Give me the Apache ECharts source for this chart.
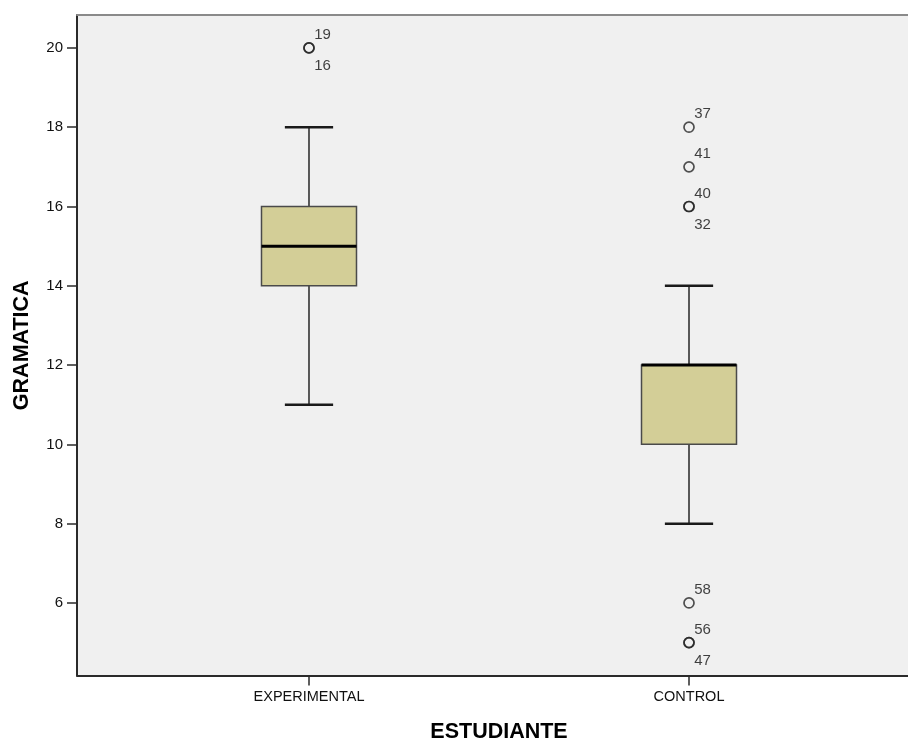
<!DOCTYPE html>
<html>
<head>
<meta charset="utf-8">
<script src="https://cdn.jsdelivr.net/npm/echarts@6/dist/echarts.min.js"></script>
<style>
html,body{margin:0;padding:0;background:#fff;}
#chart{width:908px;height:740px;}
</style>
</head>
<body>
<div id="chart"></div>
<script>
// ---- data ----
var categories = ['EXPERIMENTAL', 'CONTROL'];
var whiskerLow  = [11, 8];
var quartile1   = [14, 10];
var medians     = [15, 12];
var quartile3   = [16, 12];
var whiskerHigh = [18, 14];
// outlier cases: category index, value, case id
var outlierCat = [0, 0, 1, 1, 1, 1, 1, 1, 1];
var outlierVal = [20, 20, 18, 17, 16, 16, 6, 5, 5];
var outlierId  = ['19', '16', '37', '41', '40', '32', '58', '56', '47'];
var yTicks = [6, 8, 10, 12, 14, 16, 18, 20];
var xTitle = 'ESTUDIANTE';
var yTitle = 'GRAMATICA';

// ---- build ----
var FONT = 'Liberation Sans, Arial, sans-serif';
var BOX_W = 0.25;     // box width in category units
var CAP_W = 0.127;    // whisker cap width in category units
var X_MIN = 0.3895, X_MAX = 2.5763;

var boxData = categories.map(function (c, i) {
  return [i + 1, whiskerLow[i], quartile1[i], medians[i], quartile3[i], whiskerHigh[i]];
});

var seen = {};
var outlierData = outlierVal.map(function (v, i) {
  var key = outlierCat[i] + '_' + v;
  var below = !!seen[key];
  seen[key] = true;
  return {
    value: [outlierCat[i] + 1, v],
    label: {
      show: true,
      formatter: outlierId[i],
      position: below ? [11, 24] : [11, -7],
      align: 'left',
      verticalAlign: 'middle'
    }
  };
});

var chart = echarts.init(document.getElementById('chart'), null, {renderer: 'canvas'});
chart.setOption({
  animation: false,
  backgroundColor: '#ffffff',
  grid: {
    left: 77, right: 0, top: 15, bottom: 64.5,
    containLabel: false,
    outerBoundsMode: 'none',
    show: true,
    backgroundColor: '#f0f0f0',
    borderWidth: 0
  },
  xAxis: [{
    type: 'value',
    min: X_MIN, max: X_MAX,
    name: xTitle,
    nameLocation: 'middle',
    nameGap: 46,
    nameTextStyle: {fontFamily: FONT, fontWeight: 'bold', fontSize: 21.5, color: '#000', padding: [0, 0, 0, 13]},
    axisLine: {show: true, onZero: false, lineStyle: {color: '#2a2a2a', width: 2}},
    axisTick: {show: true, customValues: [1, 2], length: 10, lineStyle: {color: '#2a2a2a', width: 1.5}},
    axisLabel: {
      show: true, customValues: [1, 2], margin: 13.5,
      fontFamily: FONT, fontSize: 14.5, color: '#111',
      formatter: function (v) { return categories[Math.round(v) - 1] || ''; }
    },
    splitLine: {show: false}
  }, {
    type: 'value',
    position: 'top',
    min: X_MIN, max: X_MAX,
    axisLine: {show: true, onZero: false, lineStyle: {color: '#8a8a8a', width: 2}},
    axisTick: {show: false},
    axisLabel: {show: false},
    splitLine: {show: false}
  }],
  yAxis: {
    type: 'value',
    min: 4.17, max: 20.83,
    name: yTitle,
    nameLocation: 'middle',
    nameGap: 44,
    nameRotate: 90,
    nameTextStyle: {fontFamily: FONT, fontWeight: 'bold', fontSize: 21.5, color: '#000'},
    axisLine: {show: true, onZero: false, lineStyle: {color: '#2a2a2a', width: 2}},
    axisTick: {show: true, customValues: yTicks, length: 10, lineStyle: {color: '#2a2a2a', width: 1.5}},
    axisLabel: {
      show: true, customValues: yTicks, margin: 14,
      padding: [4, 0, 0, 0],
      fontFamily: FONT, fontSize: 15, color: '#111'
    },
    splitLine: {show: false}
  },
  series: [
    {
      type: 'custom',
      data: boxData,
      encode: {x: 0, y: [1, 2, 3, 4, 5]},
      renderItem: function (params, api) {
        var x = api.value(0);
        var lo = api.coord([x, api.value(1)]);
        var q1 = api.coord([x, api.value(2)]);
        var md = api.coord([x, api.value(3)]);
        var q3 = api.coord([x, api.value(4)]);
        var hi = api.coord([x, api.value(5)]);
        var hw = api.size([BOX_W, 0])[0] / 2;
        var cw = api.size([CAP_W, 0])[0] / 2;
        var cx = lo[0];
        var wStyle = {stroke: '#262626', lineWidth: 1.5};
        var capStyle = {stroke: '#1a1a1a', lineWidth: 2.5};
        return {
          type: 'group',
          children: [
            {type: 'line', shape: {x1: cx, y1: hi[1], x2: cx, y2: q3[1]}, style: wStyle},
            {type: 'line', shape: {x1: cx, y1: q1[1], x2: cx, y2: lo[1]}, style: wStyle},
            {type: 'line', shape: {x1: cx - cw, y1: hi[1], x2: cx + cw, y2: hi[1]}, style: capStyle},
            {type: 'line', shape: {x1: cx - cw, y1: lo[1], x2: cx + cw, y2: lo[1]}, style: capStyle},
            {type: 'rect', shape: {x: cx - hw, y: q3[1], width: 2 * hw, height: q1[1] - q3[1]},
              style: {fill: '#d3ce97', stroke: '#4a4a4a', lineWidth: 1.5}},
            {type: 'line', shape: {x1: cx - hw, y1: md[1], x2: cx + hw, y2: md[1]},
              style: {stroke: '#000', lineWidth: 3}}
          ]
        };
      },
      z: 3
    },
    {
      type: 'scatter',
      data: outlierData,
      symbol: 'circle',
      symbolSize: 10,
      itemStyle: {color: 'rgba(0,0,0,0)', borderColor: '#262626', borderWidth: 1.7},
      label: {fontFamily: FONT, fontSize: 15, color: '#111'},
      emphasis: {disabled: true},
      z: 4
    }
  ]
});
</script>
</body>
</html>
